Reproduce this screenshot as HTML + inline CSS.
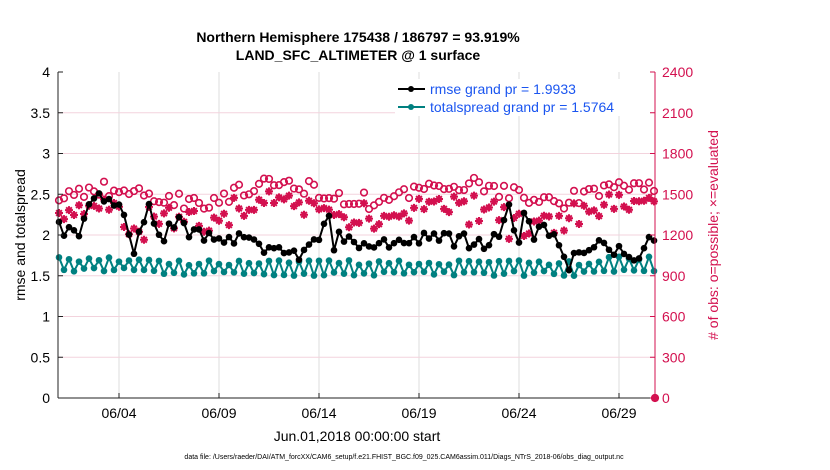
<!DOCTYPE html>
<html><head><style>body{margin:0;background:#fff}svg{display:block}text{font-family:"Liberation Sans",sans-serif}</style></head>
<body>
<svg id="s" width="830" height="470" xmlns="http://www.w3.org/2000/svg">
<rect width="830" height="470" fill="#fff"/>
<g id="grid"></g>
<g id="data"></g>
<g id="axes"></g>
<text x="358" y="42" font-size="14" font-weight="bold" text-anchor="middle">Northern Hemisphere 175438 / 186797 = 93.919%</text>
<text x="358" y="60" font-size="14" font-weight="bold" text-anchor="middle">LAND_SFC_ALTIMETER @ 1 surface</text>
<text x="357" y="441" font-size="14" text-anchor="middle">Jun.01,2018 00:00:00 start</text>
<text x="404" y="459" font-size="7" text-anchor="middle">data file: /Users/raeder/DAI/ATM_forcXX/CAM6_setup/f.e21.FHIST_BGC.f09_025.CAM6assim.011/Diags_NTrS_2018-06/obs_diag_output.nc</text>
<text transform="translate(25,235) rotate(-90)" font-size="14" text-anchor="middle">rmse and totalspread</text>
<text transform="translate(718,235) rotate(-90)" font-size="14" text-anchor="middle" fill="#d3104f">#  of obs: o=possible; ×=evaluated</text>
<rect x="395" y="79" width="255" height="37" fill="#fff"/>
<line x1="398" y1="89" x2="425" y2="89" stroke="#000" stroke-width="2"/><circle cx="411" cy="89" r="3" fill="#000"/>
<text x="430" y="94" font-size="14" fill="#1a55f0">rmse grand pr = 1.9933</text>
<line x1="398" y1="107" x2="425" y2="107" stroke="#008080" stroke-width="2"/><circle cx="411" cy="107" r="3" fill="#008080"/>
<text x="430" y="112" font-size="14" fill="#1a55f0">totalspread grand pr = 1.5764</text>
</svg>
<script>
const NS="http://www.w3.org/2000/svg";
const L=58,R=655,T=72,B=398;
function el(p,t,a){const e=document.createElementNS(NS,t);for(const k in a)e.setAttribute(k,a[k]);p.appendChild(e);return e;}
const g=document.getElementById('grid'),d=document.getElementById('data'),ax=document.getElementById('axes');
const X=day=>L+day*20-1, Y=v=>B-v*81.5, Y2=n=>B-n*326/2400;
for(let i=0;i<6;i++){const x=119+i*100;el(g,'line',{x1:x,y1:T,x2:x,y2:B,stroke:'#ddd','stroke-width':1});}
for(let i=1;i<8;i++){const y=B-i*326/8;el(g,'line',{x1:L,y1:y,x2:R,y2:y,stroke:'#f3d3dd','stroke-width':1});}
el(ax,'line',{x1:L,y1:T,x2:L,y2:B,stroke:'#222'});
el(ax,'line',{x1:L,y1:B,x2:R,y2:B,stroke:'#222'});
el(ax,'line',{x1:R,y1:T,x2:R,y2:B,stroke:'#d3104f'});
for(let i=0;i<=8;i++){const y=B-i*326/8;
 el(ax,'line',{x1:L,y1:y,x2:L+5,y2:y,stroke:'#222'});
 const t=el(ax,'text',{x:L-8,y:y+5,'font-size':14,'text-anchor':'end'});t.textContent=String(i*0.5);
 el(ax,'line',{x1:R-5,y1:y,x2:R,y2:y,stroke:'#d3104f'});
 const t2=el(ax,'text',{x:R+7,y:y+5,'font-size':14,fill:'#d3104f'});t2.textContent=String(i*300);}
['06/04','06/09','06/14','06/19','06/24','06/29'].forEach((s,i)=>{const x=119+i*100;
 el(ax,'line',{x1:x,y1:B,x2:x,y2:B-5,stroke:'#222'});
 const t=el(ax,'text',{x:x,y:B+20,'font-size':14,'text-anchor':'middle'});t.textContent=s;});
let seed=7;function rnd(){seed=(seed*16807)%2147483647;return seed/2147483647;}
function star(x,y){const r=4;let p='';for(let k=0;k<4;k++){const a=k*Math.PI/4;const dx=r*Math.cos(a),dy=r*Math.sin(a);p+=`M${x-dx},${y-dy}L${x+dx},${y+dy}`;}
 el(d,'path',{d:p,stroke:'#d3104f','stroke-width':2,fill:'none'});}
const kx=[0,0.25,0.5,1,1.5,2,2.5,3,3.3,3.75,4.5,5,5.5,6,6.5,7,8,9,10,11,12,13,13.4,13.7,14,15,16,17,18,19,20,21,22,22.5,23,23.3,23.7,24,24.5,25,25.5,26,26.5,27,28,29,29.5,30];
const kv=[2.25,1.95,2.05,1.95,2.3,2.45,2.4,2.3,2.2,1.8,2.3,1.95,2.05,2.15,2.05,2.0,2.0,1.95,1.85,1.8,1.75,1.9,2.4,1.85,1.95,1.9,1.85,1.9,1.95,1.95,1.95,1.9,1.95,2.3,1.95,2.4,2.0,2.1,2.05,1.95,1.65,1.8,1.85,1.85,1.8,1.7,1.95,1.95];
function interp(t){for(let i=0;i<kx.length-1;i++)if(t<=kx[i+1]){const f=(t-kx[i])/(kx[i+1]-kx[i]);return kv[i]+f*(kv[i+1]-kv[i]);}return kv[kv.length-1];}
let bp=[],tp=[];
for(let i=0;i<120;i++){const t=i*0.25;
 const b=interp(t)+(rnd()-0.5)*0.18; bp.push([X(t)+2,Y(b)]);
 const s=(i%2?1.53:1.66)+(rnd()-0.5)*0.06+(t<5?0.04:0)+(t>27?0.05:0); tp.push([X(t)+2,Y(s)]);
 const pc=1510+60*Math.sin(t*0.7)+(rnd()-0.5)*120+(t<5?-30:0);
 const ev=pc-70-rnd()*110-(t>20&&rnd()<0.2?150:0)-(t>3&&t<4.3?180:0);
 el(d,'circle',{cx:X(t)+2,cy:Y2(pc),r:3.3,fill:'none',stroke:'#d3104f','stroke-width':1.6});
 star(X(t)+2,Y2(ev));
}
star(R,B);
el(d,'circle',{cx:R,cy:B,r:3.3,fill:'none',stroke:'#d3104f','stroke-width':1.6});
el(d,'polyline',{points:tp.map(p=>p.join(',')).join(' '),fill:'none',stroke:'#008080','stroke-width':2});
tp.forEach(p=>el(d,'circle',{cx:p[0],cy:p[1],r:3.3,fill:'#008080'}));
el(d,'polyline',{points:bp.map(p=>p.join(',')).join(' '),fill:'none',stroke:'#000','stroke-width':2});
bp.forEach(p=>el(d,'circle',{cx:p[0],cy:p[1],r:3.3,fill:'#000'}));
</script>
</body></html>
